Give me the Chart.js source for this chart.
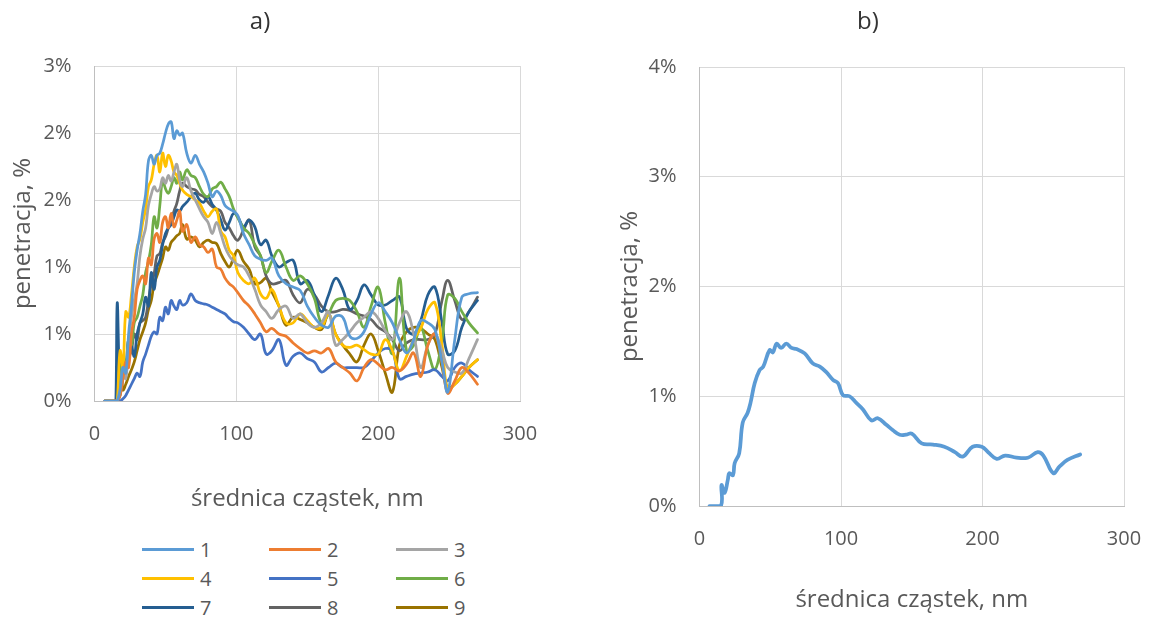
<!DOCTYPE html>
<html>
<head>
<meta charset="utf-8">
<script src="https://cdn.jsdelivr.net/npm/chart.js@4.4.1/dist/chart.umd.min.js"></script>
<style>
  body { margin: 0; background: #fff; width: 1151px; height: 619px; overflow: hidden; font-family: 'Open Sans', sans-serif; position: relative; }
  .box { position: absolute; }
  #legend { position: absolute; left: 142px; top: 535px; display: grid; grid-template-columns: 127px 127px 127px; grid-auto-rows: 29px; color: #595959; font-size: 20px; }
  #legend .item { display: flex; align-items: center; }
  #legend .swatch { width: 52px; height: 3px; margin-right: 6px; }
</style>
</head>
<body>
<div class="box" style="left:0;top:0;width:575px;height:516px"><canvas id="chartA"></canvas></div>
<div class="box" style="left:612px;top:0;width:552px;height:616px"><canvas id="chartB"></canvas></div>
<div id="legend"></div>
<script>
// chart a) - średnica cząstek (nm), 9 pomiarów
const SIZES_A = [7,14,15,16,18,20,22,24,26,28,30,32,34,36,38,40,42,44,46,48,50,52,54,56,58,60,62,65,68,71,74,77,80,83,86,89,92,95,98,101,105,109,113,117,121,125,130,135,140,145,150,155,160,165,170,175,180,185,190,195,200,205,210,215,220,225,230,235,240,245,249,254,259,264,270];

const S1 = [0,0,0,0,0.1,0.3,0.25,0.6,0.85,1.15,1.35,1.5,1.7,1.85,2.15,2.2,2.12,2.2,2.22,2.3,2.4,2.48,2.5,2.35,2.42,2.38,2.4,2.22,2.13,2.2,2.12,2.05,1.95,1.83,1.88,1.84,1.75,1.72,1.7,1.66,1.5,1.4,1.3,1.27,1.26,1.28,1.12,1.05,1.02,0.99,0.85,0.75,0.68,0.66,0.76,0.75,0.58,0.56,0.62,0.78,0.88,0.8,0.7,0.55,0.43,0.55,0.72,0.7,0.64,0.35,0.08,0.55,0.93,0.96,0.97];
const S2 = [0,0,0,0,0.05,0.2,0.35,0.3,0.6,0.75,1.0,1.08,1.12,1.05,1.28,1.22,1.45,1.5,1.42,1.6,1.65,1.55,1.68,1.56,1.62,1.7,1.52,1.58,1.42,1.47,1.4,1.38,1.33,1.36,1.2,1.18,1.1,1.05,1.02,0.97,0.9,0.85,0.78,0.7,0.62,0.65,0.6,0.58,0.52,0.47,0.43,0.45,0.43,0.47,0.35,0.3,0.25,0.18,0.3,0.37,0.33,0.28,0.3,0.27,0.33,0.43,0.22,0.5,0.6,0.35,0.07,0.18,0.3,0.25,0.15];
const S3 = [0,0,0,0,0.1,0.3,0.2,0.5,0.75,0.9,1.05,1.3,1.45,1.55,1.75,1.85,1.92,1.88,1.9,2.0,1.95,2.02,1.97,2.05,2.12,1.98,1.92,2.0,1.88,1.8,1.72,1.65,1.6,1.5,1.6,1.5,1.38,1.3,1.25,1.22,1.2,1.12,1.0,0.86,0.8,0.74,0.82,0.85,0.74,0.78,0.7,0.66,0.7,0.8,0.5,0.55,0.62,0.7,0.75,0.8,0.74,0.63,0.55,0.7,0.8,0.6,0.3,0.5,0.6,0.45,0.3,0.26,0.25,0.38,0.55];
const S4 = [0,0,0,0,0.45,0.3,0.8,0.75,0.95,1.2,1.38,1.45,1.6,1.72,1.92,1.98,2.12,2.2,2.05,2.22,2.1,2.2,2.15,2.05,2.02,1.95,1.89,1.85,1.83,1.8,1.77,1.7,1.65,1.7,1.72,1.52,1.47,1.35,1.3,1.15,1.08,1.05,1.1,0.96,0.92,1.0,0.85,0.7,0.7,0.78,0.72,0.66,0.66,0.78,0.6,0.5,0.48,0.5,0.46,0.42,0.42,0.55,0.45,0.27,0.4,0.55,0.65,0.82,0.88,0.5,0.1,0.15,0.22,0.3,0.37];
const S5 = [0,0,0,0,0,0.02,0.05,0.1,0.15,0.2,0.25,0.22,0.35,0.42,0.5,0.58,0.62,0.6,0.75,0.72,0.84,0.78,0.9,0.85,0.82,0.9,0.86,0.88,0.96,0.9,0.88,0.87,0.86,0.84,0.82,0.8,0.78,0.74,0.71,0.7,0.66,0.6,0.55,0.6,0.42,0.45,0.55,0.32,0.4,0.43,0.38,0.35,0.26,0.3,0.34,0.3,0.3,0.3,0.3,0.36,0.43,0.47,0.45,0.2,0.22,0.24,0.25,0.26,0.28,0.22,0.18,0.3,0.34,0.28,0.22];
const S6 = [0,0,0,0,0.2,0.4,0.3,0.55,0.5,0.7,0.75,0.85,0.95,1.15,1.25,1.4,1.65,1.55,1.75,1.98,1.9,1.86,1.92,2.0,1.95,2.05,1.98,2.07,2.02,2.0,1.92,1.85,1.83,1.9,1.92,1.96,1.9,1.83,1.72,1.64,1.55,1.5,1.4,1.3,1.15,1.25,1.35,1.2,1.08,1.12,1.05,0.92,0.7,0.78,0.9,0.92,0.9,0.8,0.66,0.85,1.02,0.7,0.43,1.1,0.45,0.5,0.66,0.45,0.28,0.55,0.95,0.92,0.8,0.7,0.61];
const S7 = [0,0,0,0.88,0.1,0.35,0.3,0.55,0.5,0.4,0.6,0.7,0.78,0.93,0.85,1.15,1.0,1.2,1.26,1.4,1.5,1.55,1.58,1.65,1.71,1.7,1.74,1.78,1.83,1.86,1.8,1.78,1.83,1.76,1.71,1.62,1.53,1.6,1.68,1.65,1.56,1.62,1.56,1.4,1.44,1.3,1.2,1.24,1.26,1.05,1.08,0.95,0.8,0.95,1.1,1.0,0.82,0.9,1.04,0.95,0.86,0.86,0.9,0.93,0.65,0.6,0.72,0.95,1.02,0.7,0.42,0.45,0.66,0.8,0.9];
const S8 = [0,0,0,0,0.05,0.2,0.25,0.38,0.45,0.6,0.55,0.7,0.72,0.75,0.9,1.05,1.14,1.3,1.32,1.42,1.47,1.55,1.62,1.7,1.77,1.88,1.95,1.92,1.9,1.89,1.85,1.83,1.78,1.74,1.72,1.7,1.6,1.55,1.48,1.44,1.53,1.62,1.38,1.3,1.12,1.05,1.06,1.08,0.95,0.88,1.0,0.95,0.85,0.8,0.8,0.82,0.81,0.78,0.76,0.73,0.66,0.62,0.55,0.45,0.52,0.55,0.55,0.55,0.6,0.9,1.08,0.9,0.73,0.8,0.93];
const S9 = [0,0,0,0,0.34,0.1,0.15,0.22,0.28,0.35,0.45,0.55,0.62,0.7,0.82,0.9,1.05,1.12,1.2,1.28,1.38,1.35,1.42,1.45,1.48,1.5,1.58,1.45,1.47,1.44,1.38,1.42,1.44,1.42,1.41,1.32,1.25,1.2,1.28,1.35,1.25,1.18,1.05,1.06,1.1,0.98,0.85,0.68,0.75,0.73,0.7,0.66,0.64,0.78,0.6,0.5,0.42,0.35,0.5,0.6,0.45,0.25,0.08,0.5,0.62,0.66,0.65,0.6,0.55,0.3,0.12,0.15,0.22,0.3,0.37];

const SERIES_A = [S1, S2, S3, S4, S5, S6, S7, S8, S9];
const LABELS_A = ['1','2','3','4','5','6','7','8','9'];
const COLORS_A = ['#5B9BD5','#ED7D31','#A5A5A5','#FFC000','#4472C4','#70AD47','#255E91','#636363','#997300'];

// chart b) - wartość średnia
const SIZES_B = [7,15,15.5,17.7,20,21,23.6,24.8,28,30.5,34,36,39,42.5,45,49.5,51.8,54.5,57.6,61.3,65,68.5,74.3,80,85,89.6,94.3,97.8,101.4,106,110.8,115.5,121.4,126,132,136.7,141.5,146,150,157,165,173,180.5,186,193,199.5,204,210,216,224,232,239,243,250,254.5,260,269];
const VALUES_B = [0,0,0.19,0.12,0.24,0.3,0.28,0.39,0.48,0.76,0.85,0.94,1.12,1.24,1.27,1.42,1.4,1.48,1.44,1.48,1.44,1.43,1.39,1.3,1.27,1.22,1.15,1.12,1.01,1.0,0.94,0.88,0.78,0.8,0.74,0.69,0.65,0.65,0.66,0.57,0.56,0.54,0.49,0.45,0.54,0.54,0.49,0.43,0.46,0.44,0.44,0.49,0.46,0.3,0.36,0.42,0.47];

const X_TICKS = [0, 100, 200, 300];
const X_TITLE = 'średnica cząstek, nm';
const Y_TITLE = 'penetracja, %';

Chart.defaults.font.family = "'Open Sans', sans-serif";
Chart.defaults.color = '#595959';

function toPoints(xs, ys) {
  return xs.map((x, i) => ({ x: x, y: ys[i] }));
}

// note: chart.js counts ticks.padding twice when sizing a scale, titles padding compensates
function axes(yMax, yStep, xTitlePad, yTitlePad) {
  return {
    x: {
      type: 'linear', min: 0, max: 300,
      afterBuildTicks: s => { s.ticks = X_TICKS.map(v => ({ value: v })); },
      grid: { color: '#D9D9D9', drawTicks: false },
      border: { color: '#BFBFBF' },
      ticks: { padding: 21, font: { size: 20 }, color: '#595959' },
      title: { display: true, text: X_TITLE, font: { size: 24 }, color: '#595959', padding: xTitlePad }
    },
    y: {
      min: 0, max: yMax,
      grid: { color: '#D9D9D9', drawTicks: false },
      border: { color: '#BFBFBF' },
      ticks: { stepSize: yStep, padding: 23, font: { size: 20 }, color: '#595959',
        callback: v => Math.round(v) + '%' },
      title: { display: true, text: Y_TITLE, font: { size: 24 }, color: '#595959', padding: yTitlePad }
    }
  };
}

const lineOpts = { pointRadius: 0, tension: 0.4, fill: false, borderJoinStyle: 'round', borderCapStyle: 'round' };

new Chart(document.getElementById('chartA'), {
  type: 'line',
  data: {
    datasets: SERIES_A.map((s, i) => Object.assign({
      label: LABELS_A[i], data: toPoints(SIZES_A, s), borderColor: COLORS_A[i], borderWidth: 2.75
    }, lineOpts))
  },
  options: {
    responsive: true, maintainAspectRatio: false, animation: false,
    layout: { padding: { left: 0, right: 55, top: 0, bottom: 0 } },
    plugins: {
      legend: { display: false },
      tooltip: { enabled: false },
      title: { display: true, text: 'a)', color: '#333', font: { size: 24, weight: 'normal' }, padding: { top: 7.6, bottom: 29.6 } }
    },
    scales: axes(3, 0.6, { top: 17.6, bottom: 2.6 }, { top: 9, bottom: -17.2 })
  }
});

new Chart(document.getElementById('chartB'), {
  type: 'line',
  data: {
    datasets: [Object.assign({ label: 'b', data: toPoints(SIZES_B, VALUES_B), borderColor: '#5B9BD5', borderWidth: 3.75 }, lineOpts)]
  },
  options: {
    responsive: true, maintainAspectRatio: false, animation: false,
    layout: { padding: { left: 0, right: 40, top: 0, bottom: 0 } },
    plugins: {
      legend: { display: false },
      tooltip: { enabled: false },
      title: { display: true, text: 'b)', color: '#333', font: { size: 24, weight: 'normal' }, padding: { top: 7.6, bottom: 30.6 } }
    },
    scales: axes(4, 1, { top: 14.1, bottom: 1.1 }, { top: 4, bottom: -19.2 })
  }
});

// legenda dla wykresu a)
const legend = document.getElementById('legend');
LABELS_A.forEach((l, i) => {
  const item = document.createElement('div');
  item.className = 'item';
  item.innerHTML = `<span class="swatch" style="background:${COLORS_A[i]}"></span><span>${l}</span>`;
  legend.appendChild(item);
});
</script>
</body>
</html>
